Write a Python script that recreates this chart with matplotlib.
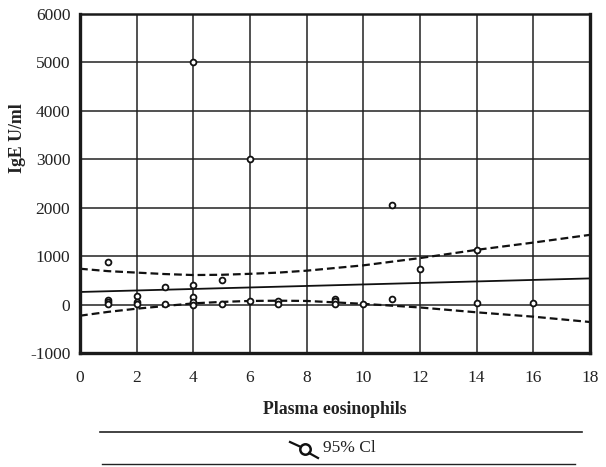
import matplotlib
matplotlib.use("Agg")
import matplotlib.pyplot as plt
from matplotlib.lines import Line2D

# Data
pts_x = [1, 1, 1, 1, 2, 2, 2, 3, 3, 4, 4, 4, 4, 4, 5, 5, 6, 6, 7, 7,
         9, 9, 9, 10, 11, 11, 12, 14, 14, 16]
pts_y = [880, 100, 50, 10, 180, 50, 10, 370, 20, 5000, 400, 160, 60, 0, 510, 10, 3000, 80, 80, 20,
         110, 70, 10, 20, 120, 2060, 730, 1120, 30, 30]

fit_x = [0, 18]
fit_y = [260, 540]

ci_x = [0, 1, 2, 3, 4, 5, 6, 7, 8, 10, 12, 14, 16, 18]
ci_upper = [740, 690, 660, 630, 610, 615, 635, 660, 700, 810, 960, 1130, 1280, 1440]
ci_lower = [-230, -150, -85, -30, 25, 55, 75, 80, 75, 15, -60, -160, -250, -360]

xticks = [0, 2, 4, 6, 8, 10, 12, 14, 16, 18]
yticks = [-1000, 0, 1000, 2000, 3000, 4000, 5000, 6000]

plt.rcParams['font.family'] = ['Liberation Serif', 'DejaVu Serif']
plt.rcParams['axes.unicode_minus'] = False

fig = plt.figure(figsize=(6.06, 4.67), dpi=100)
ax = fig.add_axes([80/606, 1-353/467, 510/606, 339/467])

ax.set_xlim(0, 18)
ax.set_ylim(-1000, 6000)
ax.set_xticks(xticks)
ax.set_yticks(yticks)
ax.tick_params(length=0, labelsize=12.5, colors='#222222')
ax.tick_params(axis='x', pad=12)
ax.tick_params(axis='y', pad=7)
ax.grid(True, color='#222222', linewidth=1.1)
ax.set_axisbelow(True)
for s in ['left', 'bottom', 'right']:
    ax.spines[s].set_linewidth(2.4)
    ax.spines[s].set_color('#1a1a1a')
ax.spines['top'].set_linewidth(1.8)
ax.spines['top'].set_color('#1a1a1a')

ax.plot(fit_x, fit_y, color='#111111', linewidth=1.3)
ax.plot(ci_x, ci_upper, color='#111111', linewidth=1.6, linestyle=(0, (3.5, 1.8)))
ax.plot(ci_x, ci_lower, color='#111111', linewidth=1.6, linestyle=(0, (3.5, 1.8)))
ax.plot(pts_x, pts_y, linestyle='none', marker='o', markersize=4.2,
        markerfacecolor='white', markeredgecolor='#111111', markeredgewidth=1.3, zorder=5)

fig.text(18/606, 1-138/467, 'IgE U/ml', rotation=90, ha='center', va='center',
         fontsize=12.8, fontweight='bold', color='#222222')
fig.text(335/606, 1-410/467, 'Plasma eosinophils', ha='center', va='center',
         fontsize=12.8, fontweight='bold', color='#222222')

# legend box lines
fig.add_artist(Line2D([100/606, 582/606], [1-432/467, 1-432/467], color='#222222', linewidth=1.2))
fig.add_artist(Line2D([102/606, 575/606], [1-464/467, 1-464/467], color='#222222', linewidth=1.0))

# legend icon: line into a circle with a short tail
fig.add_artist(Line2D([290/606, 301/606], [1-442/467, 1-447/467], color='#111111', linewidth=1.6))
fig.add_artist(Line2D([305/606], [1-449/467], marker='o', markersize=7.5, markerfacecolor='white',
                      markeredgecolor='#111111', markeredgewidth=1.8, linestyle='none'))
fig.add_artist(Line2D([309/606, 318/606], [1-453/467, 1-458/467], color='#111111', linewidth=1.6))
fig.text(323/606, 1-448/467, '95% Cl', ha='left', va='center', fontsize=12.5, color='#222222')

fig.savefig('out.png', dpi=100)
